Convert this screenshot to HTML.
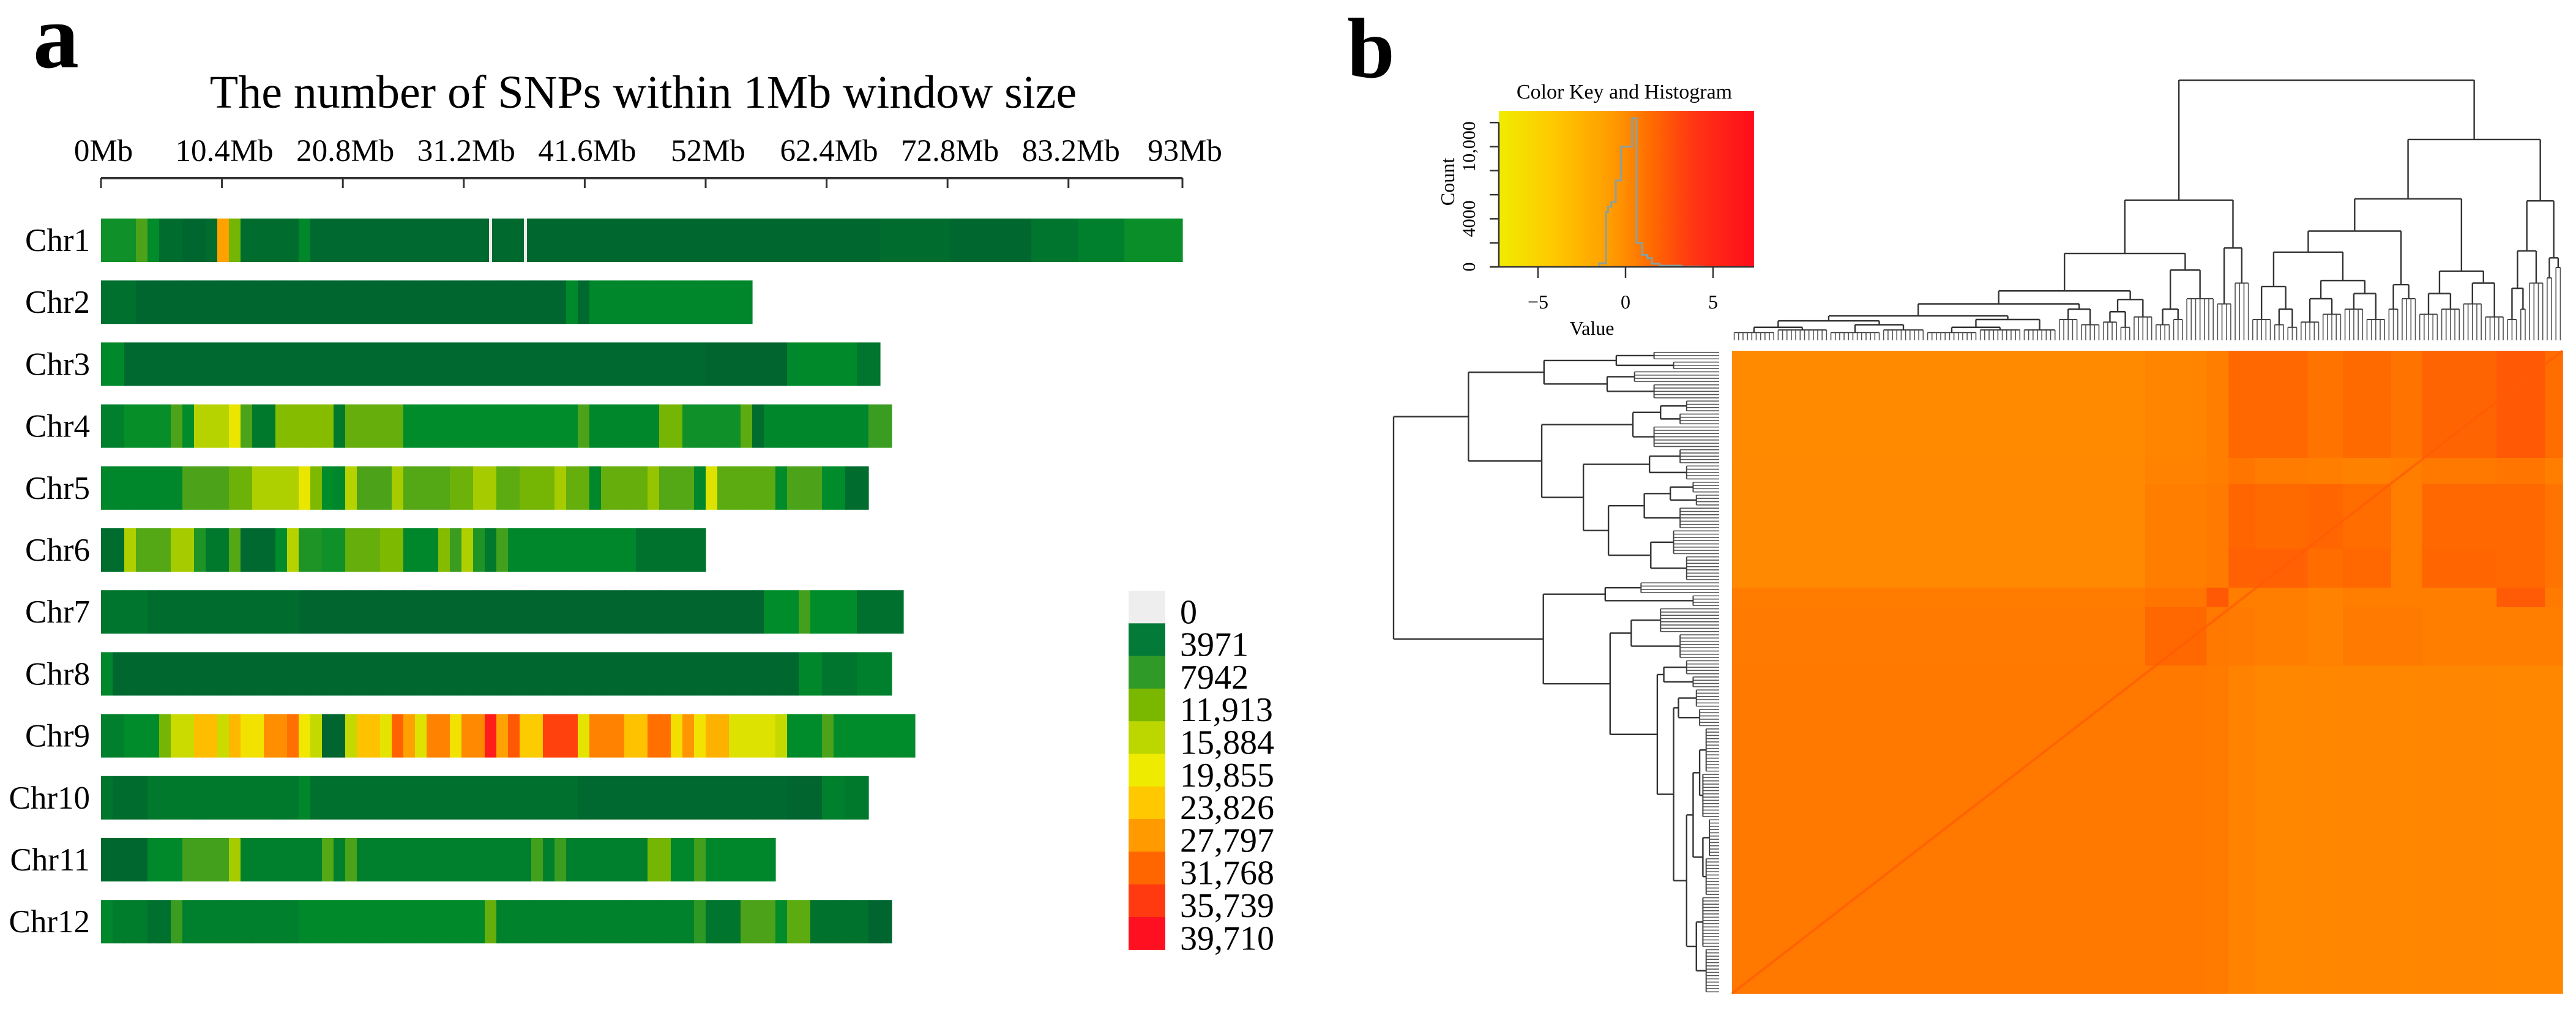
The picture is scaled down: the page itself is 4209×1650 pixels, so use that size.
<!DOCTYPE html>
<html><head><meta charset="utf-8"><title>SNP density and kinship heatmap</title>
<style>
html,body{margin:0;padding:0;background:#fff;}
svg{display:block;font-family:"Liberation Serif",serif;}
</style></head>
<body>
<svg id="fig" width="4209" height="1650" viewBox="0 0 4209 1650" xmlns="http://www.w3.org/2000/svg">
<rect x="0" y="0" width="4209" height="1650" fill="#fff"/>
<text x="54" y="110" font-size="150" font-weight="bold">a</text>
<text x="1051" y="176" font-size="76" text-anchor="middle">The number of SNPs within 1Mb window size</text>
<g id="axisA"></g>
<g id="bars"></g>
<g id="legendA"></g>
<text x="2201" y="126" font-size="140" font-weight="bold">b</text>
<g id="key"></g>
<g id="heat"></g>
<g id="dendTop"></g>
<g id="dendLeft"></g>
</svg>
<script>
// ---------- Panel a data ----------
const tickLabels = ["0Mb","10.4Mb","20.8Mb","31.2Mb","41.6Mb","52Mb","62.4Mb","72.8Mb","83.2Mb","93Mb"];
const tickValues = [0,10.4,20.8,31.2,41.6,52,62.4,72.8,83.2,93];
const chrNames = ["Chr1","Chr2","Chr3","Chr4","Chr5","Chr6","Chr7","Chr8","Chr9","Chr10","Chr11","Chr12"];
// run-length encoded SNP counts per 1Mb window: [count, number of windows]
const chr1Runs = [[6500,3],[9000,1],[6000,1],[3500,2],[3100,2],[3500,1],[27000,1],[11500,1],[3500,5],[5500,1],[3300,15],[0,1],[3400,2],[0,1],[3200,30],[3600,6],[3200,7],[4200,4],[5000,4],[6300,5]];
const chr2Runs = [[3800,3],[3100,37],[5800,1],[3300,1],[5500,14]];
const chr3Runs = [[5800,2],[3300,50],[2800,7],[5800,6],[4200,2]];
const chr4Runs = [[5000,2],[6200,4],[9000,1],[6000,1],[15500,3],[19500,1],[9000,1],[4500,2],[12500,5],[4500,1],[10500,5],[6000,15],[9000,1],[5500,6],[11500,2],[6500,5],[10000,1],[3500,1],[5500,9],[8000,2]];
const chr5Runs = [[5500,7],[9000,4],[11000,2],[15000,4],[19500,1],[12000,1],[6000,1],[5500,1],[15500,1],[9000,3],[14500,1],[9500,4],[11000,2],[14500,2],[10000,2],[11500,3],[14500,1],[10500,2],[5500,1],[10500,4],[13500,1],[9500,3],[5500,1],[18500,1],[10000,5],[6000,1],[9000,3],[6000,2],[3500,2]];
const chr6Runs = [[3500,2],[15000,1],[9500,3],[14500,2],[7000,1],[4500,2],[9500,1],[3300,3],[6000,1],[15500,1],[7000,2],[6500,2],[10500,3],[12000,2],[5500,3],[12500,1],[8000,1],[15000,1],[7000,1],[4500,1],[8500,1],[5500,11],[4000,6]];
const chr7Runs = [[4200,4],[3600,13],[3000,40],[6000,3],[8500,1],[6000,4],[3800,4]];
const chr8Runs = [[5500,1],[3200,59],[5500,2],[4200,3],[5000,3]];
const chr9Runs = [[5000,2],[6000,3],[11500,1],[17000,2],[24500,2],[17000,1],[25000,1],[20500,2],[28500,2],[31000,1],[20000,1],[16500,1],[3000,2],[16500,1],[24000,2],[19000,1],[32000,1],[27000,1],[18500,1],[29500,2],[20500,1],[29000,2],[38500,1],[27000,1],[33000,1],[23000,2],[35000,3],[19000,1],[29500,3],[24000,2],[31000,2],[21000,1],[28000,1],[20500,1],[25500,2],[18500,4],[16500,1],[6000,3],[9000,1],[6000,7]];
const chr10Runs = [[4200,1],[3500,3],[4500,13],[5500,1],[3800,23],[3300,18],[3000,3],[5000,2],[4500,2]];
const chr11Runs = [[3200,4],[5800,3],[8500,4],[14500,1],[5000,7],[9500,1],[5000,1],[9000,1],[5000,15],[8500,1],[5000,1],[8000,1],[5000,7],[11500,2],[5500,2],[8500,1],[5500,6]];
const chr12Runs = [[5500,1],[4800,3],[3800,2],[8000,1],[5000,10],[5800,16],[10500,1],[5200,17],[7500,1],[4200,3],[9000,3],[6000,1],[10000,2],[4000,5],[3000,2]];
const chrRuns = [chr1Runs,chr2Runs,chr3Runs,chr4Runs,chr5Runs,chr6Runs,chr7Runs,chr8Runs,chr9Runs,chr10Runs,chr11Runs,chr12Runs];
const legendLabels = ["0","3971","7942","11,913","15,884","19,855","23,826","27,797","31,768","35,739","39,710"];
const legendValues = [0,3971,7942,11913,15884,19855,23826,27797,31768,35739,39710];

// ---------- Panel b data ----------
const histEdges = [-1.5,-1.125,-1.0,-0.81,-0.56,-0.25,0.25,0.375,0.625,0.94,1.25,1.5,1.94,3.19,4.4];
const histCounts = [300,4545,5000,5400,7180,10000,10000,12360,2000,1000,730,270,100,30];
const keyXTicks = [-5,0,5];
const keyYTicks = [0,2000,4000,6000,8000,10000,12000];
const keyYLabels = [[0,"0"],[4000,"4000"],[10000,"10,000"]];
const colGroupSizes = [94,14,5,6,12,8,11,7,17,11,4];
const rowGroupSizes = [33,8,20,12,6,18,101];
const heatRow0 = [0.1,0.3,0.6,1.6,1.6,1.1,1.5,1.1,1.8,2.3,1.4];
const heatRow1 = [0.15,0.4,0.6,1.0,0.7,0.6,0.5,0.6,0.9,1.0,0.6];
const heatRow2 = [0.15,0.6,0.8,1.7,1.5,1.7,1.4,0.6,1.6,1.6,1.1];
const heatRow3 = [0.15,0.6,0.8,1.9,1.9,1.4,1.6,0.6,1.7,1.6,1.1];
const heatRow4 = [0.7,1.0,2.3,0.6,0.6,0.4,0.6,0.6,0.6,2.2,0.8];
const heatRow5 = [0.8,1.6,0.9,0.8,0.6,0.4,0.8,0.8,0.6,0.6,0.6];
const heatRow6 = [0.85,0.85,0.75,0.4,0.2,0.2,0.25,0.2,0.25,0.2,0.2];
const heatRows = [heatRow0,heatRow1,heatRow2,heatRow3,heatRow4,heatRow5,heatRow6];
const diagValue = 2.2;
// dendrograms: [height, left, right] or leaf cluster [height, nLeaves]
const topTree = [100,
  [53.9,
    [33.4,
      [19,
        [14,
          [9.4,[7.5,[5,[3,10],[4,12]],[6,[3,12],[4,10]]],[8,[5,[3,12],[4,10]],[4,8]]],
          [12,[8,5],[6,5]]],
        [15.7,[11,[7,4],[5,3]],[9,5]]],
      [27,[12,[6,4],[8,3]],[16,7]]],
    [35.5,[14,4],[22,4]]],
  [77.2,
    [54.4,
      [42,
        [33.9,[20.7,[8,5],[12,[6,3],[5,3]]],[23,[16,[7,5],[10,5]],[18,[12,5],[8,5]]]],
        [21.4,[12,3],[16,4]]],
      [26.6,[18,[10,5],[12,5]],[22,[14,5],[9,5]]]],
    [53.6,[34.4,[20,[8,3],[12,2]],[22,4]],[31.7,[24,2],[28,2]]]]];
const leftTree = [100,
  [77,
    [53.8,[31.6,[20,3],[14,3]],[34.4,[26,4],[20,5]]],
    [54.5,
      [26.5,[18,[10,4],[12,4]],[20,7]],
      [41.7,[21.4,[12,5],[10,5]],[34,[23,[15,[8,4],[7,4]],[12,7]],[21,[14,8],[10,8]]]]]],
  [54,
    [35,[24,4],[8,4]],
    [33.5,[27,[18,8],[12,8]],
      [19,[17,[10,5],[8,4]],
        [14,[12.5,[7,6],[6,6]],
          [10,[8,[6,[4,14],[5,14]],[5,[3,12],[4,12]]],[7,[5,16],[4,14]]]]]]]];

// ---------- helpers ----------
const NS = "http://www.w3.org/2000/svg";
function mk(parent, tag, attrs, txt){
  const e = document.createElementNS(NS, tag);
  for (const k in attrs) e.setAttribute(k, attrs[k]);
  if (txt !== undefined) e.textContent = txt;
  parent.appendChild(e);
  return e;
}
function hex(c){return [parseInt(c.slice(1,3),16),parseInt(c.slice(3,5),16),parseInt(c.slice(5,7),16)];}
function lerpColor(stops, v){
  if (v <= stops[0][0]) return stops[0][1];
  for (let i=1;i<stops.length;i++){
    if (v <= stops[i][0]){
      const t=(v-stops[i-1][0])/(stops[i][0]-stops[i-1][0]);
      const a=hex(stops[i-1][1]), b=hex(stops[i][1]);
      return "rgb("+a.map((x,j)=>Math.round(x+(b[j]-x)*t)).join(",")+")";
    }
  }
  return stops[stops.length-1][1];
}
const snpStops = [[0,'#ececec'],[1,'#005e30'],[3000,'#00652f'],[4500,'#00792d'],[6000,'#008c2a'],[7942,'#3a9c22'],[11913,'#7cb800'],[15884,'#bcd600'],[19855,'#f0e800'],[23826,'#ffc400'],[27797,'#ff9800'],[31768,'#ff6600'],[35739,'#ff3a10'],[39710,'#ff1020']];
const legendColors = ['#eeeeee','#037a37','#2f9a28','#7ab800','#bcd600','#eeea00','#ffc800','#ff9a00','#ff6600','#ff3a10','#ff1020'];
const keyStops = [[-7.24,'#f0ec00'],[-4,'#ffc800'],[-1,'#ff9e00'],[0,'#ff8c00'],[1.5,'#ff6a00'],[4,'#ff3414'],[7.34,'#ff0c1c']];

// ---------- Panel a ----------
const mbX = mb => 165 + mb*19.0;
const chrTop = i => 357 + i*101.2;
const BAR_H = 71;
const axisA = document.getElementById('axisA');
let ax = mk(axisA,'line',{x1:mbX(0),x2:mbX(93),y1:291,y2:291,stroke:'#333','stroke-width':4});


tickValues.forEach((v,i)=>{
  const t = mk(axisA,'line',{x1:mbX(v),x2:mbX(v),y1:291,y2:307,stroke:'#333','stroke-width':3});
  
  
  const l = mk(axisA,'text',{x:mbX(v)+4,y:263,'font-size':51,'text-anchor':'middle'},tickLabels[i]);
  
  
});
const bars = document.getElementById('bars');
chrRuns.forEach((runs,ci)=>{
  const g = mk(bars,'g',{});
  
  
  let mb = 0;
  runs.forEach(r=>{
    for (let k=0;k<r[1];k++){
      if (r[0] === 0){
        const bg = mk(g,'rect',{x:mbX(mb),y:chrTop(ci),width:19.6,height:BAR_H,fill:lerpColor(snpStops,3200)});
        
        
        const gap = mk(g,'rect',{x:mbX(mb)+7,y:chrTop(ci),width:5,height:BAR_H,fill:lerpColor(snpStops,r[0])});
        
        
      } else {
        const rc = mk(g,'rect',{x:mbX(mb),y:chrTop(ci),width:19.6,height:BAR_H,fill:lerpColor(snpStops,r[0])});
        
        
      }
      mb++;
    }
  });
  const lb = mk(bars,'text',{x:147,y:chrTop(ci)+53,'font-size':53,'text-anchor':'end'},chrNames[ci]);
  
  
});
const legendA = document.getElementById('legendA');
const LEG_H = 53.3;
legendValues.forEach((v,i)=>{
  const y0 = 965 + i*LEG_H;
  const b = mk(legendA,'rect',{x:1844,y:y0,width:60,height:LEG_H+0.6,fill:legendColors[i]});
  
  
  const t = mk(legendA,'text',{x:1928,y:y0+LEG_H,'font-size':56},legendLabels[i]);
  
  
});

// ---------- Panel b: color key ----------
const key = document.getElementById('key');
const kx = v => 2656 + v*28.6;
const ky = c => 436 - c*(39.3/2000);
const defs = mk(key,'defs',{});
const grad = mk(defs,'linearGradient',{id:'keyGrad',x1:0,x2:1,y1:0,y2:0});
keyStops.forEach(s=>{
  mk(grad,'stop',{offset:((s[0]+7.24)/14.58).toFixed(4),'stop-color':s[1]});
});
const kb = mk(key,'rect',{x:kx(-7.24),y:181,width:kx(7.34)-kx(-7.24),height:255,fill:'url(#keyGrad)'});


const kt = mk(key,'text',{x:2654,y:161,'font-size':34,'text-anchor':'middle'},'Color Key and Histogram');


let pts = [];
histCounts.forEach((c,i)=>{
  pts.push(kx(histEdges[i])+','+ky(c));
  pts.push(kx(histEdges[i+1])+','+ky(c));
});
const hl = mk(key,'polyline',{points:kx(histEdges[0])+','+ky(0)+' '+pts.join(' ')+' '+kx(histEdges[histEdges.length-1])+','+ky(0),fill:'none',stroke:'#8aa0a0','stroke-width':3});


const kxa = mk(key,'line',{x1:2434,x2:kx(7.34),y1:436,y2:436,stroke:'#333','stroke-width':2.5});


const kya = mk(key,'line',{x1:2449,x2:2449,y1:ky(0),y2:ky(12000),stroke:'#333','stroke-width':2.5});


keyXTicks.forEach(v=>{
  const t = mk(key,'line',{x1:kx(v),x2:kx(v),y1:436,y2:454,stroke:'#333','stroke-width':2.5});
  
  
  const l = mk(key,'text',{x:kx(v),y:504,'font-size':32,'text-anchor':'middle'},v<0?'\u2212'+Math.abs(v):String(v));
  
  
});
keyYTicks.forEach(c=>{
  const t = mk(key,'line',{x1:2434,x2:2449,y1:ky(c),y2:ky(c),stroke:'#333','stroke-width':2.5});
  
  
});
keyYLabels.forEach(p=>{
  const l = mk(key,'text',{x:2410,y:ky(p[0]),'font-size':30,'text-anchor':'middle',transform:'rotate(-90 2410 '+ky(p[0])+')'},p[1]);
  
  
});
const cl = mk(key,'text',{x:2376,y:297,'font-size':32,'text-anchor':'middle',transform:'rotate(-90 2376 297)'},'Count');


const vl = mk(key,'text',{x:2601,y:547,'font-size':32,'text-anchor':'middle'},'Value');



// ---------- heatmap ----------
const heat = document.getElementById('heat');
const HX0=2830, HX1=4187, HY0=573, HY1=1623;
const nCols = colGroupSizes.reduce((a,b)=>a+b,0);
const nRows = rowGroupSizes.reduce((a,b)=>a+b,0);
const colPx = (HX1-HX0)/nCols, rowPx = (HY1-HY0)/nRows;
let rStart = 0;
rowGroupSizes.forEach((rs,ri)=>{
  let cStart = 0;
  colGroupSizes.forEach((cs,cj)=>{
    const r = mk(heat,'rect',{x:HX0+cStart*colPx,y:HY0+rStart*rowPx,width:cs*colPx+0.8,height:rs*rowPx+0.8,fill:lerpColor(keyStops,heatRows[ri][cj])});
    
    
    cStart += cs;
  });
  rStart += rs;
});
const dg = mk(heat,'line',{x1:HX0,y1:HY1,x2:HX1,y2:HY0,stroke:lerpColor(keyStops,diagValue),'stroke-width':4,opacity:0.7});



// ---------- dendrograms ----------
function drawTree(parent, tree, leafPos, hPos, vertical){
  let counter = 0;
  function seg(a1,h1,a2,h2,w,col){
    let at;
    if (vertical) at = {x1:leafPos(a1),x2:leafPos(a2),y1:hPos(h1),y2:hPos(h2)};
    else at = {y1:leafPos(a1),y2:leafPos(a2),x1:hPos(h1),x2:hPos(h2)};
    at.stroke = col; at['stroke-width'] = w;
    const l = mk(parent,'line',at);
    
    
  }
  function rec(node){
    if (node.length === 2){
      const h = node[0], n = node[1];
      const first = counter, last = counter+n-1;
      for (let i=0;i<n;i++){ seg(counter,0,counter,h,1.6,'#555'); counter++; }
      seg(first,h,last,h,2,'#444');
      return {c:(first+last)/2, h:h};
    }
    const L = rec(node[1]), R = rec(node[2]), h = node[0];
    seg(L.c,L.h,L.c,h,2.4,'#333');
    seg(R.c,R.h,R.c,h,2.4,'#333');
    seg(L.c,h,R.c,h,2.4,'#333');
    return {c:(L.c+R.c)/2, h:h};
  }
  rec(tree);
}
drawTree(document.getElementById('dendTop'), topTree, i=>HX0+(i+0.5)*colPx, h=>556-h*4.25, true);
drawTree(document.getElementById('dendLeft'), leftTree, i=>HY0+(i+0.5)*rowPx, h=>2809-h*5.32, false);
</script>
</body></html>
